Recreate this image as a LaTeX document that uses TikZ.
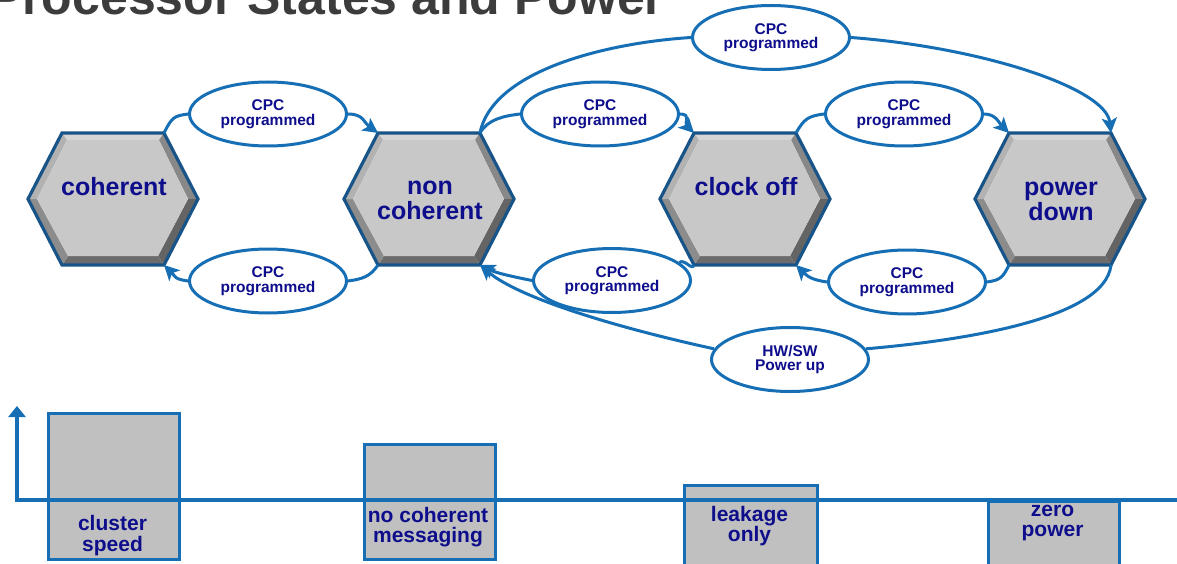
\documentclass[tikz,border=0pt]{standalone}
\usepackage{fontspec}
\setmainfont{Liberation Sans}
\usetikzlibrary{arrows.meta,shapes.geometric}

\definecolor{flowblue}{RGB}{22,110,180}
\definecolor{rimblue}{RGB}{24,84,135}
\definecolor{labelnavy}{RGB}{14,14,140}
\definecolor{titlegray}{RGB}{60,60,60}
\definecolor{hexface}{RGB}{200,200,200}
\definecolor{bevtop}{RGB}{214,214,214}
\definecolor{bevtl}{RGB}{178,178,178}
\definecolor{bevbl}{RGB}{140,140,140}
\definecolor{bevbot}{RGB}{108,108,108}
\definecolor{bevbr}{RGB}{100,100,100}
\definecolor{bevtr}{RGB}{136,136,136}
\definecolor{barfill}{RGB}{192,192,192}

\tikzset{
  flow/.style={draw=flowblue, line width=3pt},
  flowarrow/.style={-{Stealth[length=15pt,width=15pt,inset=3.5pt]}},
  trans/.style={ellipse, draw=flowblue, line width=3pt, fill=white,
    minimum width=157pt, minimum height=64pt, inner sep=0pt, align=center,
    text=labelnavy, font=\bfseries\fontsize{15.5}{14.5}\selectfont},
  hexlabel/.style={inner sep=0pt, align=center, text=labelnavy,
    font=\bfseries\fontsize{25}{25}\selectfont},
  rim/.style={draw=rimblue, line width=3.2pt},
  bar/.style={draw=flowblue, line width=3.4pt, fill=barfill, inner sep=0pt,
    anchor=north west, minimum width=131pt},
  barlabel/.style={inner sep=0pt, align=center, text=labelnavy,
    font=\bfseries\fontsize{21}{20.5}\selectfont},
  axisline/.style={draw=flowblue, line width=3.2pt}
}

% bevelled hexagon state: #1 name, #2/#3 centre, #4 label offset, #5 label
\newcommand\HexState[5]{%
  \begin{scope}[shift={(#2,#3)}]
    \fill[bevtop] (-51,-66) -- (51,-66) -- (46,-59) -- (-46,-59) -- cycle;
    \fill[bevtr]  (51,-66) -- (85,0) -- (75,0) -- (46,-59) -- cycle;
    \fill[bevbr]  (85,0) -- (51,66) -- (45,57) -- (75,0) -- cycle;
    \fill[bevbot] (51,66) -- (-51,66) -- (-45,57) -- (45,57) -- cycle;
    \fill[bevbl]  (-51,66) -- (-85,0) -- (-76,0) -- (-45,57) -- cycle;
    \fill[bevtl]  (-85,0) -- (-51,-66) -- (-46,-59) -- (-76,0) -- cycle;
    \fill[hexface] (-46,-59) -- (46,-59) -- (75,0) -- (45,57) -- (-45,57) -- (-76,0) -- cycle;
    \draw[rim] (-85,0) -- (-51,-66) -- (51,-66) -- (85,0) -- (51,66) -- (-51,66) -- cycle;
    \coordinate (#1-tl) at (-51,-66);
    \coordinate (#1-tr) at (51,-66);
    \coordinate (#1-bl) at (-51,66);
    \coordinate (#1-br) at (51,66);
    \node[hexlabel] (#1) at (1,#4) {#5};
  \end{scope}}

\begin{document}
\begin{tikzpicture}[x=1pt,y=-1pt]
\useasboundingbox (0,0) rectangle (1177,564);

% heading
\node[anchor=base west, inner sep=0pt, text=titlegray,
  font=\bfseries\fontsize{50}{50}\selectfont] (title) at (-11,15)
  {Processor States and Power};

% processor states
\HexState{coh}{113}{199}{-12}{coherent}
\HexState{nc}{429}{199}{1.5}{non\\coherent}
\HexState{co}{745}{199}{-12}{clock off}
\HexState{pd}{1060}{199}{2}{power\\down}

% transition conditions
\node[trans] (e1) at (268,114) {CPC\\programmed};
\node[trans] (e2) at (268,281) {CPC\\programmed};
\node[trans] (e3) at (600,114) {CPC\\programmed};
\node[trans] (e4) at (904,114) {CPC\\programmed};
\node[trans] (e5) at (771,37.5) {CPC\\programmed};
\node[trans] (e6) at (907,282) {CPC\\programmed};
\node[trans] (e7) at (612,280.5) {CPC\\programmed};
\node[trans] (e8) at (790,359.5) {HW/SW\\Power up};

% coherent <-> non coherent
\draw[flow] (coh-tr) .. controls +(8,-16) and +(-14,2) .. (e1.west);
\draw[flow,flowarrow] (e1.east) .. controls +(16,0) and +(-14,-10) .. (nc-tl);
\draw[flow] (nc-bl) .. controls +(-8,12) and +(14,-2) .. (e2.east);
\draw[flow,flowarrow] (e2.west) .. controls +(-14,-2) and +(12,12) .. (coh-br);

% non coherent <-> clock off
\draw[flow] (nc-tr) .. controls +(8,-14) and +(-16,2) .. (e3.west);
\draw[flow,flowarrow] (e3.east) .. controls +(12,0) and +(-10,-10) .. (co-tl);
\draw[flow] (co-bl) .. controls +(-2,6) and +(5,-4) .. (e7.15);
\draw[flow,flowarrow] (e7.west) .. controls +(-20,-4) and +(16,8) .. (nc-br);

% non coherent -> power down
\draw[flow] (nc-tr) .. controls +(13,-64) and +(-80,5) .. (e5.west);
\draw[flow,flowarrow] (e5.east) .. controls +(131,10) and +(-5,-45) .. (pd-tr);

% clock off <-> power down
\draw[flow] (co-tr) .. controls +(8,-14) and +(-16,2) .. (e4.west);
\draw[flow,flowarrow] (e4.east) .. controls +(12,0) and +(-10,-10) .. (pd-tl);
\draw[flow] (pd-bl) .. controls +(-6,12) and +(14,-2) .. (e6.east);
\draw[flow,flowarrow] (e6.west) .. controls +(-14,-2) and +(12,12) .. (co-br);

% power down -> non coherent
\draw[flow] (pd-br) .. controls +(-6,55) and +(92,-8) .. (e8.8);
\draw[flow,flowarrow] (e8.172) .. controls +(-92,-20) and +(40,34) .. (nc-br);

% power levels
\node[bar, minimum height=146pt] (b1) at (47,412) {};
\node[bar, minimum height=115pt] (b2) at (363,443) {};
\node[bar, minimum height=82pt, minimum width=133pt] (b3) at (683,484) {};
\node[bar, minimum height=66pt] (b4) at (987,500) {};

\coordinate (origin) at (17,500);
\coordinate (ytop) at (17,406);
\coordinate (xend) at (1182,500);
\draw[axisline, {Triangle[length=11pt,width=17pt]}-] (ytop) -- (origin) -- (xend);

\node[barlabel] (b1-t) at (112.5,535.5) {cluster\\speed};
\node[barlabel] (b2-t) at (428,527) {no coherent\\messaging};
\node[barlabel] (b3-t) at (749.5,526) {leakage\\only};
\node[barlabel] (b4-t) at (1052.5,523) {zero\\power};
\end{tikzpicture}
\end{document}
